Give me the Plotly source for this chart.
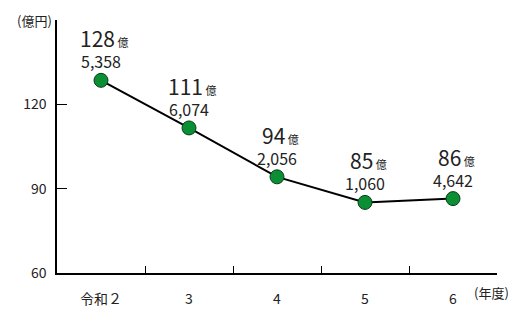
import plotly.graph_objects as go

categories = ["令和２", "3", "4", "5", "6"]
values = [128.5358, 111.6074, 94.2056, 85.1060, 86.4642]
label_oku = ["128", "111", "94", "85", "86"]
label_man = ["5,358", "6,074", "2,056", "1,060", "4,642"]
y_ticks = [60, 90, 120, 150]
y_ticktext = ["60", "90", "120", ""]

FONT = "Noto Sans CJK JP, Noto Sans, sans-serif"
TXT = "#222222"

fig = go.Figure()
fig.add_trace(go.Scatter(
    x=categories, y=values, mode="lines+markers",
    line=dict(color="black", width=2),
    marker=dict(size=14, color="#0a8f35", line=dict(color="#0b3d1a", width=1)),
    cliponaxis=False, showlegend=False,
))

for i, (v, a, b) in enumerate(zip(values, label_oku, label_man)):
    fig.add_annotation(x=i, y=v, xref="x", yref="y",
                       text=f"{a}<span style='font-size:11px'> 億</span>",
                       showarrow=False, yshift=42, xshift=3, borderpad=0,
                       font=dict(family=FONT, size=21, color=TXT))
    fig.add_annotation(x=i, y=v, xref="x", yref="y",
                       text=b, showarrow=False, yshift=19, borderpad=0,
                       font=dict(family=FONT, size=16, color=TXT))

fig.add_annotation(x=0, y=1, xref="paper", yref="paper", xanchor="right", yanchor="middle",
                   xshift=-3, text="(億円)", showarrow=False,
                   font=dict(family=FONT, size=13, color=TXT))
fig.add_annotation(x=1, y=0, xref="paper", yref="paper", xanchor="center", yanchor="middle",
                   yshift=-19, xshift=-6, text="(年度)", showarrow=False,
                   font=dict(family=FONT, size=13, color=TXT))

fig.update_layout(
    width=518, height=319,
    margin=dict(l=57, r=21, t=20, b=46),
    paper_bgcolor="white", plot_bgcolor="white",
    font=dict(family=FONT, color=TXT),
    xaxis=dict(type="category", tickson="boundaries", ticks="inside", ticklen=7,
               tickcolor="black", showline=True, linecolor="black", linewidth=1.5,
               showgrid=False, zeroline=False, ticklabelstandoff=12,
               tickfont=dict(family=FONT, size=14, color=TXT),
               range=[-0.5, 4.5]),
    yaxis=dict(range=[60, 150], tickvals=y_ticks, ticktext=y_ticktext,
               ticks="inside", ticklen=10, tickcolor="black",
               showline=True, linecolor="black", linewidth=1.5,
               showgrid=False, zeroline=False, ticklabelstandoff=6,
               tickfont=dict(family=FONT, size=14, color=TXT)),
)

fig.write_html("out.html")
